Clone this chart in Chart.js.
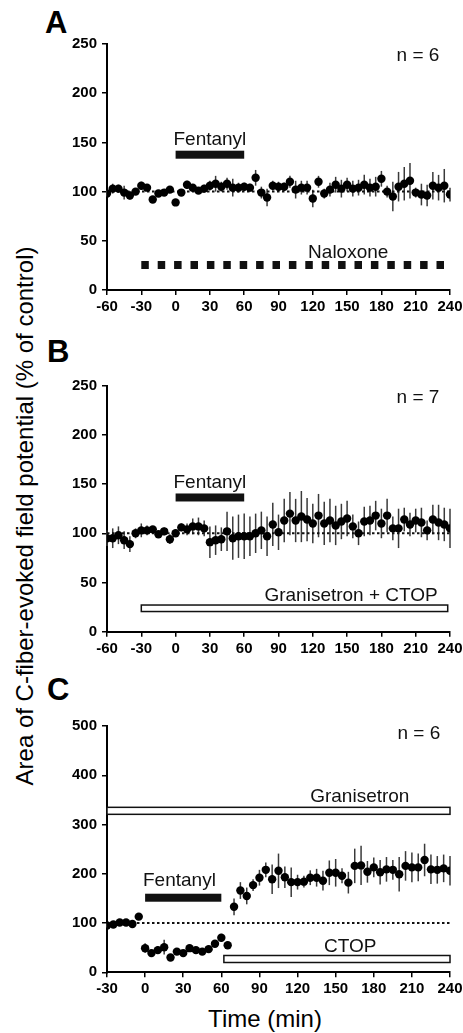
<!DOCTYPE html>
<html>
<head>
<meta charset="utf-8">
<script src="https://cdn.jsdelivr.net/npm/chart.js@4.4.0/dist/chart.umd.min.js"></script>
<style>
html, body { margin: 0; padding: 0; background: #fff; }
body { width: 463px; height: 1033px; position: relative; overflow: hidden; font-family: "Liberation Sans", Arial, sans-serif; color: #000; }
.panel { position: absolute; left: 0; width: 463px; }
.letter { position: absolute; font-weight: bold; font-size: 31px; line-height: 30px; }
#ytitle { position: absolute; left: -275px; top: 501px; width: 600px; height: 30px; line-height: 30px; text-align: center; font-size: 24px; transform: rotate(-90deg); white-space: nowrap; }
#xtitle { position: absolute; left: 165px; top: 1006px; width: 200px; text-align: center; font-size: 24px; line-height: 26px; }
</style>
</head>
<body>
<div class="letter" style="left:45px;top:8px">A</div>
<div class="letter" style="left:47px;top:337px">B</div>
<div class="letter" style="left:47px;top:675px">C</div>
<div id="ytitle">Area of C-fiber-evoked field potential (% of control)</div>
<div id="xtitle">Time (min)</div>

<div class="panel" style="top:0;height:320px"><canvas id="chartA"></canvas></div>
<div class="panel" style="top:320px;height:345px"><canvas id="chartB"></canvas></div>
<div class="panel" style="top:665px;height:368px"><canvas id="chartC"></canvas></div>

<script>
// time points (min), every 5 min
var timeAB = [-60, -55, -50, -45, -40, -35, -30, -25, -20, -15, -10, -5,
    0, 5, 10, 15, 20, 25, 30, 35, 40, 45, 50, 55, 60, 65, 70, 75, 80, 85, 90, 95,
    100, 105, 110, 115, 120, 125, 130, 135, 140, 145, 150, 155, 160, 165, 170, 175,
    180, 185, 190, 195, 200, 205, 210, 215, 220, 225, 230, 235, 240];
var timeC = [-30, -25, -20, -15, -10, -5,
    0, 5, 10, 15, 20, 25, 30, 35, 40, 45, 50, 55, 60, 65, 70, 75, 80, 85, 90, 95,
    100, 105, 110, 115, 120, 125, 130, 135, 140, 145, 150, 155, 160, 165, 170, 175,
    180, 185, 190, 195, 200, 205, 210, 215, 220, 225, 230, 235, 240];

// A: fentanyl + naloxone
var meanA = [98, 103, 103, 99, 96, 100, 106, 104, 92, 98, 99, 102,
    89, 99, 107, 104, 101, 103, 106, 108, 105, 108, 104, 104, 105, 104, 114, 99, 94, 106, 105, 105,
    110, 102, 104, 104, 93, 110, 98, 102, 107, 103, 107, 103, 104, 107, 104, 105,
    113, 100, 95, 105, 108, 111, 99, 97, 96, 106, 104, 106, 97];
var errA = [3, 5, 4, 7, 4, 3, 4, 3, 2, 3, 3, 3,
    2, 3, 4, 3, 3, 4, 5, 8, 5, 6, 9, 5, 4, 4, 8, 6, 9, 5, 5, 4,
    6, 9, 7, 7, 9, 6, 5, 7, 8, 9, 7, 8, 8, 10, 9, 10,
    8, 6, 15, 15, 17, 18, 5, 11, 11, 14, 13, 17, 7];

// B: fentanyl + granisetron + CTOP
var meanB = [95, 95, 98, 93, 89, 100, 103, 103, 104, 99, 102, 94,
    100, 106, 104, 107, 107, 105, 91, 93, 94, 102, 95, 97, 97, 97, 100, 103, 97, 109, 101, 113,
    120, 113, 117, 114, 110, 118, 110, 113, 108, 112, 115, 107, 100, 112, 113, 118,
    110, 118, 105, 105, 114, 109, 113, 111, 103, 114, 111, 109, 105];
var errB = [8, 10, 9, 9, 8, 5, 7, 5, 3, 3, 4, 5,
    3, 4, 6, 8, 9, 8, 16, 15, 12, 20, 22, 22, 23, 20, 20, 19, 20, 22, 18, 22,
    22, 22, 26, 22, 20, 22, 22, 22, 20, 18, 18, 12, 12, 15, 15, 15,
    15, 17, 12, 20, 12, 12, 12, 15, 10, 15, 18, 17, 20];

// C: granisetron, fentanyl, then CTOP
var meanC = [95, 97, 101, 101, 98, 113,
    49, 39, 45, 51, 30, 42, 39, 49, 45, 42, 47, 58, 70, 55, 133, 166, 155, 177, 192, 208,
    189, 206, 193, 183, 183, 184, 192, 192, 186, 202, 202, 196, 182, 216, 217, 204,
    213, 203, 209, 208, 199, 216, 213, 213, 228, 209, 208, 211, 206];
var errC = [4, 4, 3, 3, 4, 4,
    10, 6, 8, 15, 4, 5, 5, 5, 4, 4, 4, 5, 8, 6, 17, 17, 17, 12, 16, 15,
    30, 35, 22, 30, 15, 12, 15, 18, 20, 25, 28, 15, 22, 35, 40, 22,
    20, 25, 25, 20, 35, 30, 30, 28, 33, 30, 28, 28, 30];

var xTicksAB = [-60, 240];
var xTicksC = [-30, 240];
var yTicksAB = [0, 250, 50];
var yTicksC = [0, 500, 100];

var FONT = '"Liberation Sans", Arial, sans-serif';

// error bars behind the dots
function errorBars(times, means, errs) {
    return {
        id: 'errorBars',
        beforeDatasetsDraw: function(chart) {
            var ctx = chart.ctx, xs = chart.scales.x, ys = chart.scales.y;
            ctx.save();
            ctx.strokeStyle = '#3a3a3a';
            ctx.lineWidth = 1.5;
            for (var i = 0; i < times.length; i++) {
                var px = xs.getPixelForValue(times[i]);
                ctx.beginPath();
                ctx.moveTo(px, ys.getPixelForValue(means[i] - errs[i]));
                ctx.lineTo(px, ys.getPixelForValue(means[i] + errs[i]));
                ctx.stroke();
            }
            ctx.restore();
        }
    };
}

// drug bars and labels
function marks(bars, texts) {
    return {
        id: 'marks',
        afterDatasetsDraw: function(chart) {
            var ctx = chart.ctx, xs = chart.scales.x, ys = chart.scales.y;
            ctx.save();
            bars.forEach(function(b) {
                var x1 = xs.getPixelForValue(b.from), x2 = xs.getPixelForValue(b.to);
                var yc = ys.getPixelForValue(b.y);
                if (b.kind == 'solid') {
                    ctx.fillStyle = '#111';
                    ctx.fillRect(x1, yc - b.h / 2, x2 - x1, b.h);
                } else if (b.kind == 'open') {
                    ctx.fillStyle = '#fff';
                    ctx.strokeStyle = '#111';
                    ctx.lineWidth = 1.5;
                    ctx.fillRect(x1, yc - b.h / 2, x2 - x1, b.h);
                    ctx.strokeRect(x1, yc - b.h / 2, x2 - x1, b.h);
                } else {
                    ctx.strokeStyle = '#111';
                    ctx.lineWidth = b.h;
                    ctx.setLineDash([7.5, 8.9]);
                    ctx.beginPath();
                    ctx.moveTo(x1, yc);
                    ctx.lineTo(x2, yc);
                    ctx.stroke();
                    ctx.setLineDash([]);
                }
            });
            ctx.fillStyle = '#111';
            ctx.font = '19px ' + FONT;
            ctx.textAlign = 'center';
            ctx.textBaseline = 'alphabetic';
            texts.forEach(function(t) {
                ctx.fillText(t.text, xs.getPixelForValue(t.x), ys.getPixelForValue(t.y));
            });
            ctx.restore();
        }
    };
}

function makePanel(id, times, means, errs, xr, yr, top, xh, bars, texts) {
    var pts = times.map(function(t, i) { return {x: t, y: means[i]}; });
    new Chart(document.getElementById(id), {
        type: 'scatter',
        data: {
            datasets: [{
                type: 'line',
                data: [{x: xr[0], y: 100}, {x: xr[1], y: 100}],
                borderColor: '#111',
                borderWidth: 2,
                borderDash: [2.5, 2.5],
                pointRadius: 0,
                order: 2
            }, {
                data: pts,
                pointRadius: 4.2,
                pointBackgroundColor: '#000',
                pointBorderWidth: 0,
                showLine: false,
                order: 1
            }]
        },
        options: {
            responsive: true,
            maintainAspectRatio: false,
            animation: false,
            layout: { padding: { top: top, right: 13, left: 0, bottom: 0 } },
            plugins: { legend: { display: false }, tooltip: { enabled: false } },
            scales: {
                x: {
                    type: 'linear',
                    min: xr[0],
                    max: xr[1],
                    afterFit: function(s) { s.height = xh; s.paddingLeft = 0; s.paddingRight = 0; },
                    ticks: { stepSize: 30, autoSkip: false, maxRotation: 0, padding: 3, color: '#000',
                        font: { family: FONT, size: 15, weight: 'bold' } },
                    grid: { drawOnChartArea: false, drawTicks: true, tickLength: 5, tickColor: '#000', lineWidth: 1.5 },
                    border: { display: true, color: '#000', width: 2 }
                },
                y: {
                    min: yr[0],
                    max: yr[1],
                    afterFit: function(s) { s.width = 107; s.paddingTop = 0; s.paddingBottom = 0; },
                    ticks: { stepSize: yr[2], padding: 5, color: '#000',
                        font: { family: FONT, size: 15, weight: 'bold' } },
                    grid: { drawOnChartArea: false, drawTicks: true, tickLength: 5, tickColor: '#000', lineWidth: 1.5 },
                    border: { display: true, color: '#000', width: 2 }
                }
            }
        },
        plugins: [errorBars(times, means, errs), marks(bars, texts)]
    });
}

makePanel('chartA', timeAB, meanA, errA, xTicksAB, yTicksAB, 44, 30,
    [{kind: 'solid', from: 0, to: 60, y: 137.5, h: 8},
     {kind: 'dashed', from: -30, to: 235, y: 25.4, h: 8}],
    [{text: 'Fentanyl', x: 30, y: 147},
     {text: 'n = 6', x: 212, y: 233},
     {text: 'Naloxone', x: 151, y: 32.2}]);

makePanel('chartB', timeAB, meanB, errB, xTicksAB, yTicksAB, 65.7, 33.3,
    [{kind: 'solid', from: 0, to: 60, y: 136.4, h: 8},
     {kind: 'open', from: -30, to: 238, y: 23.8, h: 6.5}],
    [{text: 'Fentanyl', x: 30, y: 145.7},
     {text: 'n = 7', x: 212, y: 232.7},
     {text: 'Granisetron + CTOP', x: 153.5, y: 31.2}]);

makePanel('chartC', timeC, meanC, errC, xTicksC, yTicksC, 61, 60.7,
    [{kind: 'open', from: -30, to: 240, y: 327.8, h: 7},
     {kind: 'solid', from: 0, to: 60, y: 151.4, h: 8},
     {kind: 'open', from: 62, to: 240, y: 27, h: 7}],
    [{text: 'n = 6', x: 215.5, y: 474},
     {text: 'Granisetron', x: 169, y: 346.7},
     {text: 'Fentanyl', x: 27, y: 174.7},
     {text: 'CTOP', x: 161.4, y: 41.9}]);
</script>
</body>
</html>
